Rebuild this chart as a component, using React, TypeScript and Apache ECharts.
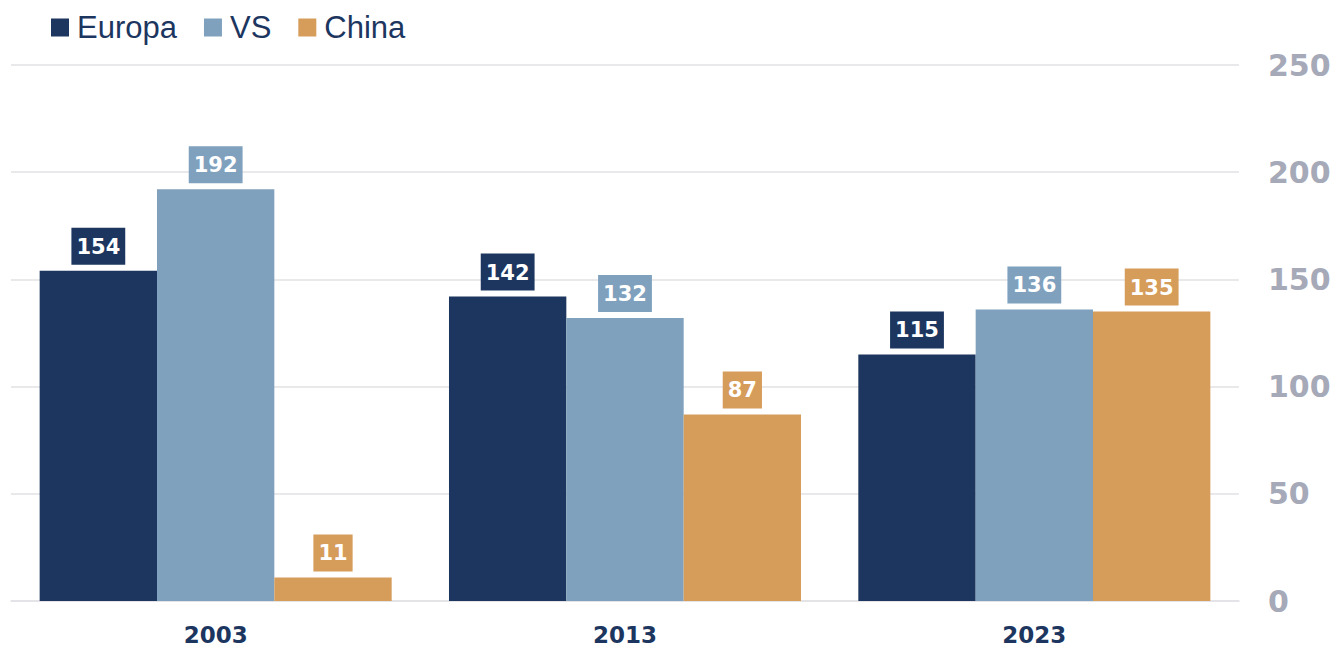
import React, { useEffect, useRef } from "react";
import * as echarts from "echarts";

const years = ["2003", "2013", "2023"];
const europa = [154, 142, 115];
const vs = [192, 132, 136];
const china = [11, 87, 135];
const yTicks = { min: 0, max: 250, interval: 50 };

const colors = { europa: "#1c365f", vs: "#7fa1be", china: "#d69c5a" };

export default function App() {
  const ref = useRef<HTMLDivElement>(null);
  useEffect(() => {
    document.body.style.margin = "0";
    const chart = echarts.init(ref.current!, null, { renderer: "svg" });
    const font = "'Liberation Sans', Arial, Helvetica, sans-serif";
    const wide = "'DejaVu Sans', Verdana, sans-serif";
    const mk = (name: string, data: number[], color: string) => ({
      name,
      type: "bar",
      data,
      barGap: "0%",
      barCategoryGap: "14%",
      itemStyle: { color },
      label: {
        show: true,
        position: "top",
        distance: 6,
        backgroundColor: color,
        padding: [8, 5, 7, 5],
        color: "#ffffff",
        fontFamily: wide,
        fontWeight: "bold",
        fontSize: 21,
        lineHeight: 22,
      },
    });
    chart.setOption({
      animation: false,
      textStyle: { fontFamily: font },
      legend: {
        left: 51,
        top: 12,
        padding: 0,
        itemWidth: 18,
        itemHeight: 18,
        itemGap: 27,
        icon: "rect",
        textStyle: { fontSize: 31, color: colors.europa, fontFamily: font, padding: [0, 0, 0, 3] },
        data: ["Europa", "VS", "China"],
      },
      grid: { left: 11, right: 97, top: 65, bottom: 45, containLabel: false },
      xAxis: {
        type: "category",
        data: years,
        axisTick: { show: false },
        axisLine: { show: true, lineStyle: { color: "#e2e2e6", width: 1.5 } },
        axisLabel: {
          margin: 22,
          fontSize: 23,
          fontWeight: "bold",
          color: colors.europa,
          fontFamily: wide,
        },
      },
      yAxis: {
        type: "value",
        position: "right",
        min: yTicks.min,
        max: yTicks.max,
        interval: yTicks.interval,
        axisLine: { show: false },
        axisTick: { show: false },
        splitLine: { lineStyle: { color: "#e2e2e6", width: 1.5 } },
        axisLabel: {
          margin: 29,
          fontSize: 30,
          fontWeight: "bold",
          color: "#a6a9b8",
          fontFamily: wide,
        },
      },
      series: [
        mk("Europa", europa, colors.europa),
        mk("VS", vs, colors.vs),
        mk("China", china, colors.china),
      ],
    });
    return () => chart.dispose();
  }, []);
  return <div ref={ref} style={{ width: 1336, height: 646 }} />;
}
